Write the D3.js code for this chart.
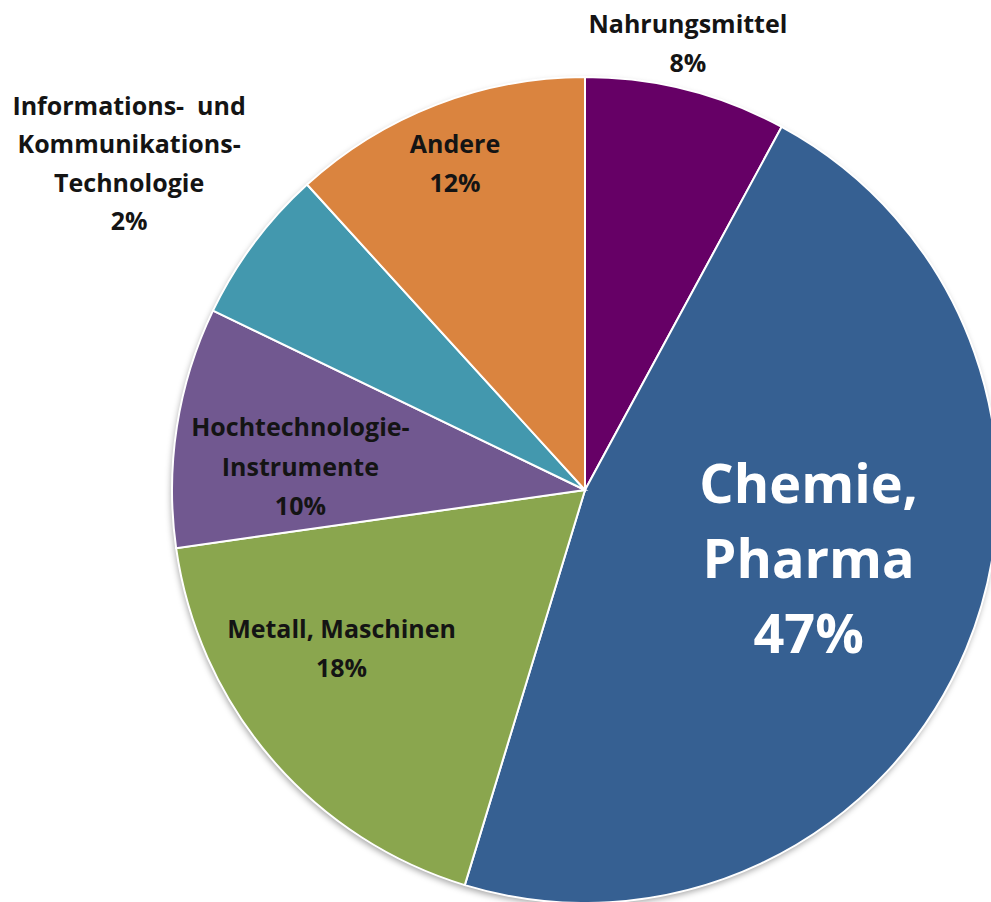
<!DOCTYPE html>
<html>
<head>
<meta charset="utf-8">
<script src="https://cdn.jsdelivr.net/npm/d3@7"></script>
<style>
  html, body { margin: 0; padding: 0; background: #fff; }
  svg { display: block; }
  text { font-family: "Open Sans", Lato, sans-serif; font-weight: bold; white-space: pre; }
</style>
</head>
<body>
<div id="chart"></div>
<script>
// slice sizes as drawn in the picture (share of the circle, %)
var categories = ["Nahrungsmittel", "Chemie, Pharma", "Metall, Maschinen",
  "Hochtechnologie-Instrumente", "Informations- und Kommunikations-Technologie", "Andere"];
var shares = [7.9, 46.8, 18.05, 9.4, 6.1, 11.75];
// the percentages printed on the labels
var percentLabels = ["8%", "47%", "18%", "10%", "2%", "12%"];
var labelLines = [
  ["Nahrungsmittel"],
  ["Chemie,", "Pharma"],
  ["Metall, Maschinen"],
  ["Hochtechnologie-", "Instrumente"],
  ["Informations-  und", "Kommunikations-", "Technologie"],
  ["Andere"]
];
var colors = ["#660066", "#366092", "#8aa64e", "#715890", "#4398ae", "#da843f"];

onload = function () {
  var width = 991, height = 902;
  var cx = 585, cy = 490, radius = 413;

  var svg = d3.select("#chart").append("svg")
    .attr("width", width)
    .attr("height", height);

  var defs = svg.append("defs");
  var shadow = defs.append("filter").attr("id", "shadow")
    .attr("x", "-10%").attr("y", "-10%").attr("width", "120%").attr("height", "120%");
  shadow.append("feDropShadow")
    .attr("dx", -1).attr("dy", 3).attr("stdDeviation", 3)
    .attr("flood-color", "#000").attr("flood-opacity", 0.35);

  var g = svg.append("g")
    .attr("transform", "translate(" + cx + "," + cy + ")");

  var pie = d3.pie().sort(null).value(function (d) { return d; });
  var arcs = pie(shares);

  var arc = d3.arc().innerRadius(0).outerRadius(radius);

  var color = d3.scaleOrdinal().domain(d3.range(shares.length)).range(colors);

  g.append("circle").attr("r", radius).attr("fill", "#fff").attr("filter", "url(#shadow)");

  g.selectAll("path.slice")
    .data(arcs)
    .enter().append("path")
    .attr("class", "slice")
    .attr("d", arc)
    .attr("fill", function (d, i) { return color(i); })
    .attr("stroke", "#fff")
    .attr("stroke-width", 2);

  // label distance from centre, per slice (outside for the two small top ones)
  var labelRadius = [450, 240, 295, 285, 556, 344];
  var fontSize = [25, 54, 25, 25, 25, 25];
  var lineH = [39, 75, 39, 39.5, 38.5, 39];
  var labelAngleShift = [-1, -1.4, 6.2, -5.8, -1.8, -1.05]; // degrees

  var labels = g.selectAll("text.label")
    .data(arcs)
    .enter().append("text")
    .attr("class", "label")
    .attr("text-anchor", "middle")
    .attr("fill", function (d, i) { return i === 1 ? "#fff" : "#141414"; })
    .style("font-size", function (d, i) { return fontSize[i] + "px"; })
    .attr("transform", function (d, i) {
      var a = (d.startAngle + d.endAngle) / 2 + labelAngleShift[i] * Math.PI / 180;
      var r = labelRadius[i];
      return "translate(" + (Math.sin(a) * r) + "," + (-Math.cos(a) * r) + ")";
    });

  labels.each(function (d, i) {
    var lines = labelLines[i].concat([percentLabels[i]]);
    var n = lines.length;
    var t = d3.select(this);
    lines.forEach(function (line, k) {
      t.append("tspan")
        .attr("x", 0)
        .attr("y", (k - (n - 1) / 2) * lineH[i] + 1)
        .text(line);
    });
  });
};
</script>
</body>
</html>
